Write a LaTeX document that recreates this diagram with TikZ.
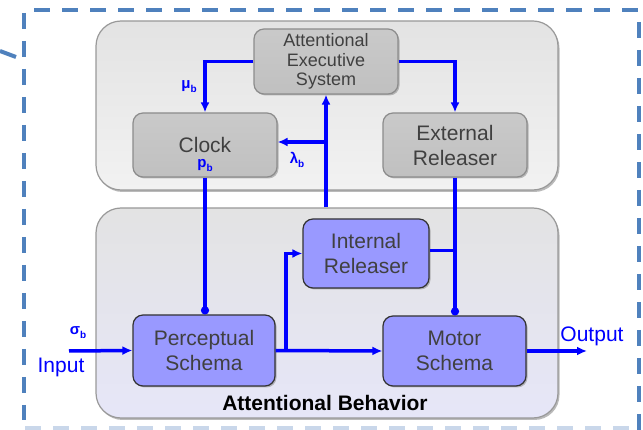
\documentclass[tikz,border=0pt]{standalone}
\usepackage{fontspec}
\setmainfont{Liberation Sans}
\usetikzlibrary{arrows.meta,shadows}

\definecolor{frameblue}{HTML}{4F81BD}
\definecolor{framefade}{HTML}{C9D7EA}
\definecolor{wireblue}{HTML}{0000FF}
\definecolor{boxtext}{HTML}{404040}
\definecolor{grayfill}{HTML}{C0C0C0}
\definecolor{grayedge}{HTML}{8C8C8C}
\definecolor{bluefill}{HTML}{9999FF}
\definecolor{blueedge}{HTML}{333333}
\definecolor{paneltop}{HTML}{E3E3E3}
\definecolor{panelbot}{HTML}{F2F2F2}
\definecolor{lavbot}{HTML}{E6E6F8}

% blue symbol with a small lowered index
\newcommand{\sublbl}[2]{#1\raisebox{-4pt}{\fontsize{10}{10}\selectfont #2}}

\tikzset{
  outerdash/.style={frameblue, line width=4pt, dash pattern=on 16pt off 12pt},
  panel/.style={draw=black!40, line width=1.2pt, rounded corners=25pt,
    drop shadow={shadow xshift=1.5pt, shadow yshift=-2pt, fill=black!45, opacity=.6}},
  boxbase/.style={line width=1.2pt, rounded corners=10pt, text=boxtext,
    align=center, inner sep=0pt, font=\fontsize{21}{25}\selectfont,
    drop shadow={shadow xshift=1.5pt, shadow yshift=-1.5pt, fill=black!50, opacity=.5}},
  graybox/.style={boxbase, draw=grayedge, top color=grayfill!85!white, bottom color=grayfill},
  bluebox/.style={boxbase, draw=blueedge, fill=bluefill},
  link/.style={draw=wireblue, line width=3.5pt},
  arr/.style={link, -{Latex[length=10pt,width=9pt]}},
  dotend/.style={link, -{Circle[length=8pt]}},
  sym/.style={text=wireblue, font=\bfseries\fontsize{15}{15}\selectfont, inner sep=0pt},
  iolabel/.style={text=wireblue, font=\fontsize{21}{21}\selectfont, inner sep=0pt},
}

\begin{document}
\begin{tikzpicture}[x=1pt,y=-1pt]
\useasboundingbox (0,0) rectangle (643,430);

% surrounding dashed frame
\draw[outerdash] (24,13) -- (24,420);
\draw[outerdash] (34,10) -- (643,10);
\draw[outerdash] (639,22) -- (639,430);
\draw[outerdash, framefade] (25,428) -- (630,428);
\draw[frameblue, line width=4pt] (0,51) -- (16,57);

% two panels
\node[panel, top color=paneltop, bottom color=panelbot,
      minimum width=462pt, minimum height=169pt] (upper) at (327,105.5) {};
\node[panel, top color=paneltop, bottom color=lavbot,
      minimum width=462pt, minimum height=210pt] (lower) at (327,313) {};

% blocks
\node[graybox, minimum width=144pt, minimum height=65pt,
      font=\fontsize{18}{19.5}\selectfont] (aes) at (326,61.5)
      {Attentional\\Executive\\System};
\node[graybox, minimum width=144pt, minimum height=64pt] (clock) at (205,145) {Clock};
\node[graybox, minimum width=144pt, minimum height=64pt] (ext) at (455,145) {External\\Releaser};
\node[bluebox, minimum width=126pt, minimum height=69pt] (intr) at (366,253.5) {Internal\\Releaser};
\node[bluebox, minimum width=142pt, minimum height=71pt] (perc) at (204,350.5) {Perceptual\\Schema};
\node[bluebox, minimum width=143pt, minimum height=70pt] (motor) at (454.5,351) {Motor\\Schema};

% free ends and branch points of connectors
\coordinate (in)  at (69,351);
\coordinate (out) at (587,351);
\coordinate (br)  at (286,351);
\coordinate (clockin) at ([yshift=3pt]clock.east);
\coordinate (introut) at ([yshift=3pt]intr.east);

% connectors
\draw[arr] (aes.west) -| (clock.north);
\draw[arr] (aes.east) -| (ext.north);
\draw[arr] (aes.south |- lower.north) -- (aes.south);
\draw[arr] (aes.south |- clockin) -- (clockin);
\draw[dotend] (clock.south) -- (clock.south |- perc.north);
\draw[dotend] (ext.south) -- (ext.south |- motor.north);
\draw[link] (introut) -- (introut -| ext.south);
\draw[arr] (in) -- (perc.west);
\draw[arr] (perc.east) -- (motor.west);
\draw[arr] (br) |- (intr.west);
\draw[arr] (motor.east) -- (out);

% labels
\node[sym] (mu) at (189,87) {\sublbl{μ}{b}};
\node[sym] (lam) at (297,160) {\sublbl{λ}{b}};
\node[sym] (pb) at (205,166) {\sublbl{p}{b}};
\node[sym] (sig) at (78,333) {\sublbl{σ}{b}};
\node[iolabel] (inlbl) at (61,367) {Input};
\node[iolabel] (outlbl) at (592,336) {Output};
\node[font=\bfseries\fontsize{21}{21}\selectfont, inner sep=0pt] (title) at (325,403) {Attentional Behavior};
\end{tikzpicture}
\end{document}
